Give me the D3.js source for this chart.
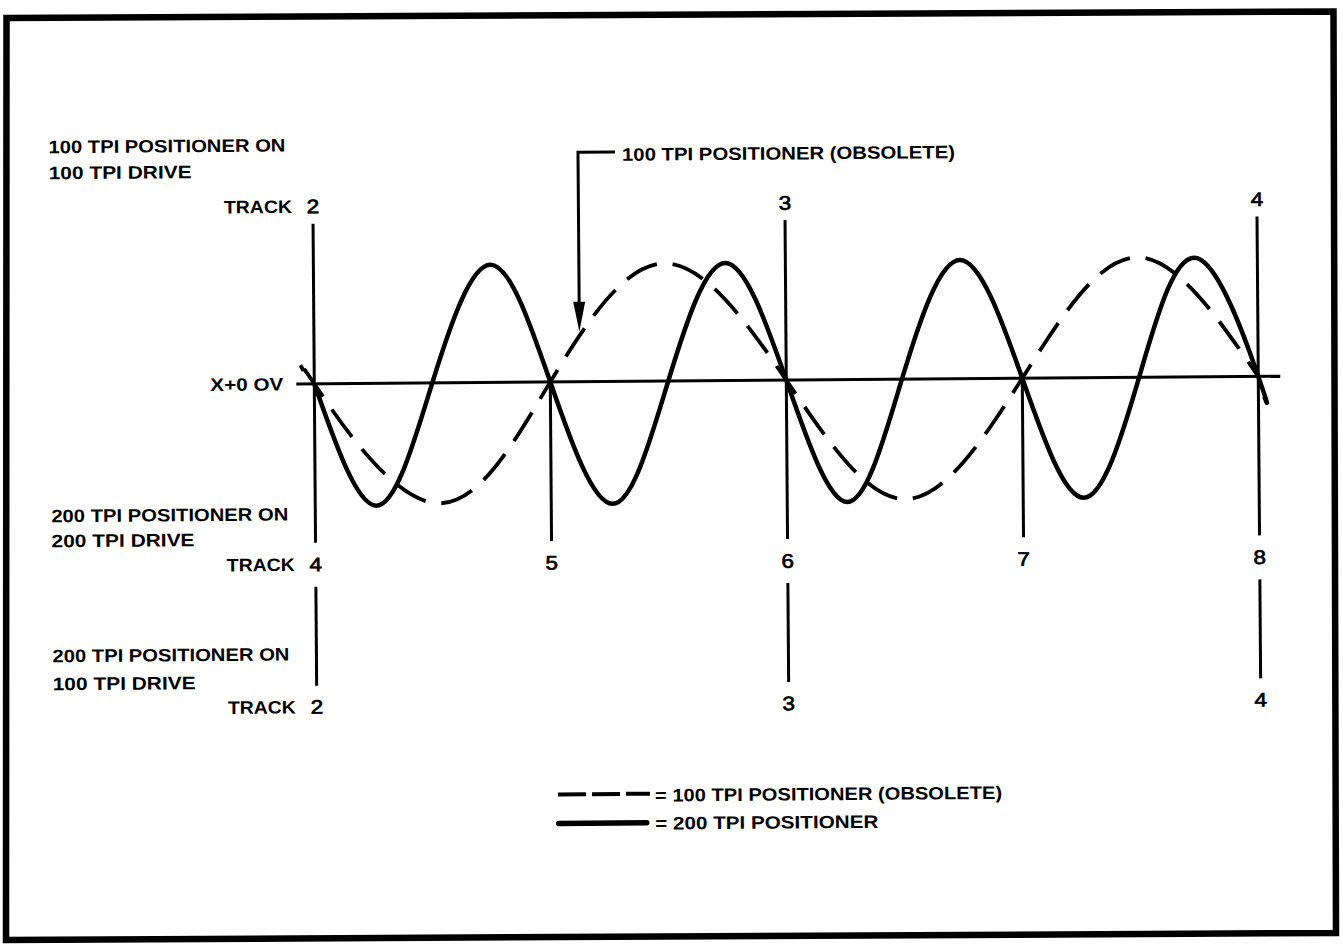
<!DOCTYPE html>
<html><head><meta charset="utf-8">
<script src="https://cdn.jsdelivr.net/npm/d3@7"></script>
<style>body{margin:0;background:#fff} svg{display:block}</style>
</head><body>
<svg id="chart" width="1343" height="944"></svg>
<script>
// ---------------- DATA ----------------
// x axis: position expressed in 200 TPI track numbers
const trackPos200 = [4, 5, 6, 7, 8];
const trackLabels200 = ["4", "5", "6", "7", "8"];
const trackPos100 = [4, 6, 8];
const trackLabels100Top = ["2", "3", "4"];     // 100 TPI positioner on 100 TPI drive
const trackLabels100Bottom = ["2", "3", "4"];  // 200 TPI positioner on 100 TPI drive

// 200 TPI positioner (solid): position, normalized signal (+ up)
const solidPos = [4, 4.26, 4.5, 4.75, 5, 5.26, 5.5, 5.745, 6, 6.255, 6.49, 6.74, 7, 7.255, 7.495, 7.745, 8, 8.025];
const solidVal = [0, -1.02, 0, 0.98, 0, -1.02, 0, 0.98, 0, -1.02, 0, 0.99, 0, -1.0, 0, 0.99, 0, -0.17];

// 100 TPI positioner (obsolete, dashed)
const dashPos = [3.955, 4, 4.5, 5, 5.49, 6, 6.5, 7, 7.49, 8];
const dashVal = [0.11, 0, -1.0, 0, 0.98, 0, -1.0, 0, 1.0, 0];

const blockTop = ["100 TPI POSITIONER ON", "100 TPI DRIVE"];
const blockMid = ["200 TPI POSITIONER ON", "200 TPI DRIVE"];
const blockBot = ["200 TPI POSITIONER ON", "100 TPI DRIVE"];
const baselineLabel = "X+0 OV";
const annotationText = "100 TPI POSITIONER (OBSOLETE)";
const legendDashText = "= 100 TPI POSITIONER (OBSOLETE)";
const legendSolidText = "= 200 TPI POSITIONER";

// ---------------- DRAW ----------------
const svg = d3.select("#chart");
const FONT = "'Liberation Sans', Arial, Helvetica, sans-serif";

// frame (slightly skewed like the scan)
const frame = [[6.5, 18], [1333.5, 11.5], [1336, 933], [6, 940]];
svg.append("path")
  .attr("d", d3.line()(frame) + "Z")
  .attr("fill", "none").attr("stroke", "#000").attr("stroke-width", 6.5)
  .attr("stroke-linejoin", "miter");

const g = svg.append("g").attr("transform", "rotate(-0.45,671,472)");

const x = d3.scaleLinear().domain([4, 8]).range([315, 1259]);
const y = d3.scaleLinear().domain([-1, 1]).range([501, 261]);

// baseline
g.append("line")
  .attr("x1", x(4) - 18).attr("x2", x(8) + 22)
  .attr("y1", y(0)).attr("y2", y(0))
  .attr("stroke", "#000").attr("stroke-width", 3);

// vertical track lines
const vTop = 221, vMidBottom = 540, vLowTop = 584, vLowBottom = 683;
g.selectAll(".vtop").data(trackPos100).enter().append("line")
  .attr("x1", d => x(d)).attr("x2", d => x(d))
  .attr("y1", vTop).attr("y2", vMidBottom)
  .attr("stroke", "#000").attr("stroke-width", 3);
g.selectAll(".vmid").data(trackPos200.filter(d => !trackPos100.includes(d))).enter().append("line")
  .attr("x1", d => x(d)).attr("x2", d => x(d))
  .attr("y1", y(0)).attr("y2", vMidBottom)
  .attr("stroke", "#000").attr("stroke-width", 3);
g.selectAll(".vlow").data(trackPos100).enter().append("line")
  .attr("x1", d => x(d)).attr("x2", d => x(d))
  .attr("y1", vLowTop).attr("y2", vLowBottom)
  .attr("stroke", "#000").attr("stroke-width", 3);

// curves
const line = d3.line().x(d => x(d[0])).y(d => y(d[1])).curve(d3.curveNatural);
const solidData = solidPos.map((p, i) => [p, solidVal[i]]);
const dashData = dashPos.map((p, i) => [p, dashVal[i]]);

const dashPath = g.append("path")
  .attr("d", line(dashData))
  .attr("fill", "none").attr("stroke", "#000").attr("stroke-width", 3.8);

// dash pattern: 7 dashes per half wave, gaps centred on the extrema
const node = dashPath.node();
const total = node.getTotalLength();
function arcAtX(tx) {
  let lo = 0, hi = total;
  for (let k = 0; k < 40; k++) {
    const mid = (lo + hi) / 2;
    if (node.getPointAtLength(mid).x < tx) lo = mid; else hi = mid;
  }
  return (lo + hi) / 2;
}
const sStart = arcAtX(x(4) + 0.01), sEnd = arcAtX(x(8) - 0.01), sMin = arcAtX(x(dashPos[2]));
const P = (sEnd - sStart) / 28, dLen = P * 0.68, gLen = P - dLen;
let off = ((dLen + gLen / 2 - sMin) % P + P) % P;
dashPath.attr("stroke-dasharray", dLen + "," + gLen).attr("stroke-dashoffset", off);

g.append("path")
  .attr("d", line(solidData))
  .attr("fill", "none").attr("stroke", "#000").attr("stroke-width", 4.5)
  .attr("stroke-linejoin", "round");

// text helpers
function txt(s, px, py, opts = {}) {
  const t = g.append("text").text(s)
    .attr("x", px).attr("y", py)
    .attr("font-family", opts.family || FONT)
    .attr("font-size", opts.size || 18)
    .attr("font-weight", opts.weight || "bold")
    .attr("text-anchor", opts.anchor || "start")
    .attr("fill", "#000");
  if (opts.len) t.attr("textLength", opts.len).attr("lengthAdjust", "spacingAndGlyphs");
  return t;
}
const capOff = 6.4, digOff = 7;
const digitOpts = {size: 19.5, weight: "normal", anchor: "middle", len: 12.5};
function digit(s, px, py) {
  return txt(s, px, py, digitOpts).attr("stroke", "#000").attr("stroke-width", 0.7);
}

// left blocks
txt(blockTop[0], 51, 142 + capOff, {len: 237});
txt(blockTop[1], 51, 168 + capOff, {len: 143});
txt(blockMid[0], 51, 511 + capOff, {len: 237});
txt(blockMid[1], 51, 536 + capOff, {len: 143});
txt(blockBot[0], 51, 651 + capOff, {len: 237});
txt(blockBot[1], 51, 679 + capOff, {len: 143});

// TRACK rows
const rowTopY = 203.5, rowMidY = 561.5, rowBotY = 704;
[rowTopY, rowMidY, rowBotY].forEach(ry => txt("TRACK", 294, ry + capOff, {anchor: "end", len: 68}));

trackPos100.forEach((p, i) => digit(trackLabels100Top[i], x(p), rowTopY + digOff));
trackPos200.forEach((p, i) => digit(trackLabels200[i], x(p), rowMidY + digOff));
trackPos100.forEach((p, i) => digit(trackLabels100Bottom[i], x(p), rowBotY + digOff));

// baseline label
txt(baselineLabel, 284, y(0) + capOff, {anchor: "end", len: 73});

// annotation with arrow
const annX = 580.5, annTopY = 151.5, annTipY = 331;
g.append("path")
  .attr("d", `M${annX + 37},${annTopY} H${annX} V${annTipY - 28}`)
  .attr("fill", "none").attr("stroke", "#000").attr("stroke-width", 3);
g.append("path")
  .attr("d", `M${annX - 6},${annTipY - 30} L${annX + 6},${annTipY - 30} L${annX},${annTipY} Z`)
  .attr("fill", "#000");
txt(annotationText, 624.5, 154 + capOff, {len: 333});

// legend
g.append("line").attr("x1", 555.5).attr("x2", 647.5).attr("y1", 793.5).attr("y2", 793.5)
  .attr("stroke", "#000").attr("stroke-width", 4).attr("stroke-dasharray", "28,6");
g.append("line").attr("x1", 556).attr("x2", 644).attr("y1", 822.5).attr("y2", 822.5)
  .attr("stroke", "#000").attr("stroke-width", 5.5).attr("stroke-linecap", "round");
txt(legendDashText, 652.5, 795 + capOff, {len: 347});
txt(legendSolidText, 652.5, 823 + capOff, {len: 223});
</script>
</body></html>
